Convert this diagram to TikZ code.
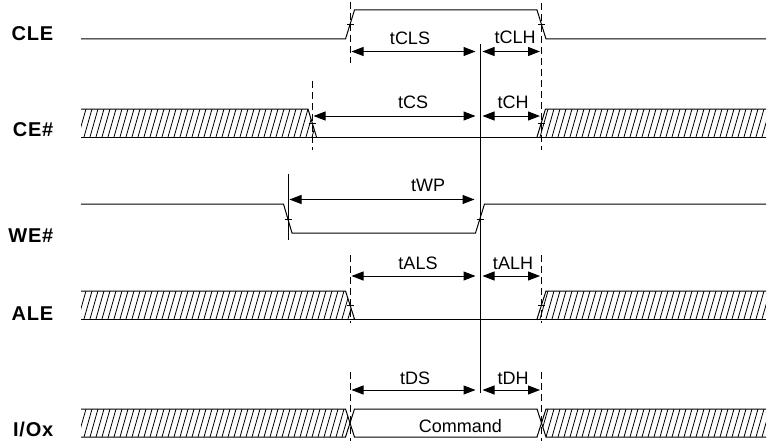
\documentclass[tikz,border=0pt]{standalone}
\usepackage{fontspec}
\setmainfont{Liberation Sans}
\usetikzlibrary{arrows.meta}
\tikzset{
  sig/.style={line width=1pt, line join=miter},
  hatchline/.style={line width=0.8pt},
  dashv/.style={line width=1pt, dash pattern=on 7pt off 4pt},
  solidv/.style={line width=1pt},
  tick/.style={line width=0.8pt},
  dim/.style={line width=1pt, {Triangle[length=12pt,width=9pt]}-{Triangle[length=12pt,width=9pt]}},
  tlabel/.style={font=\fontsize{18}{20}\selectfont, inner sep=0pt, anchor=base},
  slabel/.style={font=\fontsize{20}{22}\selectfont\bfseries\addfontfeatures{LetterSpace=4}, inner sep=0pt, anchor=east},
}
\newcommand\hatchlines[2]{\foreach \hx in {60,66,...,780} \draw[hatchline] (\hx,#2) -- (\hx+8,#1);}
\newcommand\tickmark[2]{\draw[tick] (#1-3.5,#2) -- (#1+3.5,#2);}
\begin{document}
\begin{tikzpicture}[x=1pt,y=-1pt]
\useasboundingbox (0,0) rectangle (768,444);

% ---------- signal names ----------
\node[slabel] (nCLE) at (53.5,34) {CLE};
\node[slabel] (nCE)  at (53.5,130) {CE\#};
\node[slabel] (nWE)  at (53.5,236) {WE\#};
\node[slabel] (nALE) at (53.5,314) {ALE};
\node[slabel] (nIO)  at (53.5,429) {I/Ox};

% ---------- CLE ----------
\draw[sig] (81,39) -- (345.5,39) -- (354.5,10) -- (537,10) -- (546,39) -- (766,39);
\tickmark{350}{24.5}
\tickmark{541.5}{24.5}

% ---------- CE# ----------
\begin{scope}
  \clip (81,109) -- (308,109) -- (316.5,137) -- (81,137) -- cycle;
  \hatchlines{109}{137}
\end{scope}
\begin{scope}
  \clip (545.5,109) -- (766,109) -- (766,137) -- (537,137) -- cycle;
  \hatchlines{109}{137}
\end{scope}
\draw[sig] (81,109) -- (308,109) -- (316.5,137);
\draw[sig] (81,137) -- (766,137);
\draw[sig] (537,137) -- (545.5,109) -- (766,109);
\tickmark{312}{123}
\tickmark{541.5}{123}

% ---------- WE# ----------
\draw[sig] (81,204) -- (283.5,204) -- (292,233) -- (475.5,233) -- (484.5,204) -- (766,204);
\tickmark{288}{219}
\tickmark{480}{219}

% ---------- ALE ----------
\begin{scope}
  \clip (81,291) -- (345.5,291) -- (354.5,319) -- (81,319) -- cycle;
  \hatchlines{291}{319}
\end{scope}
\begin{scope}
  \clip (546,291) -- (766,291) -- (766,319) -- (537,319) -- cycle;
  \hatchlines{291}{319}
\end{scope}
\draw[sig] (81,291) -- (345.5,291) -- (354.5,319);
\draw[sig] (81,319) -- (766,319);
\draw[sig] (537,319) -- (546,291) -- (766,291);
\tickmark{350}{305}
\tickmark{541.5}{305}

% ---------- I/Ox ----------
\begin{scope}
  \clip (81,409) -- (345.5,409) -- (350,423) -- (345.5,437) -- (81,437) -- cycle;
  \hatchlines{409}{437}
\end{scope}
\begin{scope}
  \clip (546,409) -- (766,409) -- (766,437) -- (546,437) -- (541.5,423) -- cycle;
  \hatchlines{409}{437}
\end{scope}
\draw[sig] (81,409) -- (345.5,409) -- (354.5,437) -- (537,437) -- (546,409) -- (766,409);
\draw[sig] (81,437) -- (345.5,437) -- (354.5,409) -- (537,409) -- (546,437) -- (766,437);
\node[font=\fontsize{18}{20}\selectfont, inner sep=0pt] (cmd) at (460.5,426) {Command};

% ---------- reference lines ----------
\coordinate (dA1) at (350,2);   \coordinate (dA2) at (350,63);
\coordinate (dB1) at (541.5,3); \coordinate (dB2) at (541.5,150);
\coordinate (dC1) at (312,81);  \coordinate (dC2) at (312,150);
\coordinate (dD1) at (350,255); \coordinate (dD2) at (350,323);
\coordinate (dE1) at (541.5,255); \coordinate (dE2) at (541.5,323);
\coordinate (dF1) at (350,372); \coordinate (dF2) at (350,441);
\coordinate (dG1) at (541.5,372); \coordinate (dG2) at (541.5,441);
\coordinate (sM1) at (480,44);  \coordinate (sM2) at (480,393);
\coordinate (sW1) at (288,174); \coordinate (sW2) at (288,240);
\foreach \a/\b in {dA1/dA2,dB1/dB2,dC1/dC2,dD1/dD2,dE1/dE2,dF1/dF2,dG1/dG2}
  \draw[dashv] (\a) -- (\b);
\draw[solidv] (sM1) -- (sM2);
\draw[solidv] (sW1) -- (sW2);

% ---------- timing arrows ----------
\coordinate (aCLS1) at (351.5,51.5); \coordinate (aCLS2) at (475.5,51.5);
\coordinate (aCLH1) at (482.5,51.5); \coordinate (aCLH2) at (540,51.5);
\coordinate (aCS1)  at (313.5,116);  \coordinate (aCS2)  at (475.5,116);
\coordinate (aCH1)  at (482.5,116);  \coordinate (aCH2)  at (540,116);
\coordinate (aWP1)  at (289.5,199.5);\coordinate (aWP2)  at (474.5,199.5);
\coordinate (aALS1) at (351.5,276);  \coordinate (aALS2) at (475.5,276);
\coordinate (aALH1) at (482.5,276);  \coordinate (aALH2) at (540,276);
\coordinate (aDS1)  at (351.5,390);  \coordinate (aDS2)  at (475.5,390);
\coordinate (aDH1)  at (482.5,390);  \coordinate (aDH2)  at (540,390);
\foreach \a/\b in {aCLS1/aCLS2,aCLH1/aCLH2,aCS1/aCS2,aCH1/aCH2,aWP1/aWP2,aALS1/aALS2,aALH1/aALH2,aDS1/aDS2,aDH1/aDH2}
  \draw[dim] (\a) -- (\b);

% ---------- timing labels ----------
\node[tlabel] (tCLS) at (410,45) {tCLS};
\node[tlabel] (tCLH) at (515,44) {tCLH};
\node[tlabel] (tCS)  at (413,108) {tCS};
\node[tlabel] (tCH)  at (513,108) {tCH};
\node[tlabel] (tWP)  at (428,191) {tWP};
\node[tlabel] (tALS) at (418,269) {tALS};
\node[tlabel] (tALH) at (513,269) {tALH};
\node[tlabel] (tDS)  at (415,384) {tDS};
\node[tlabel] (tDH)  at (513,384) {tDH};
\end{tikzpicture}
\end{document}
